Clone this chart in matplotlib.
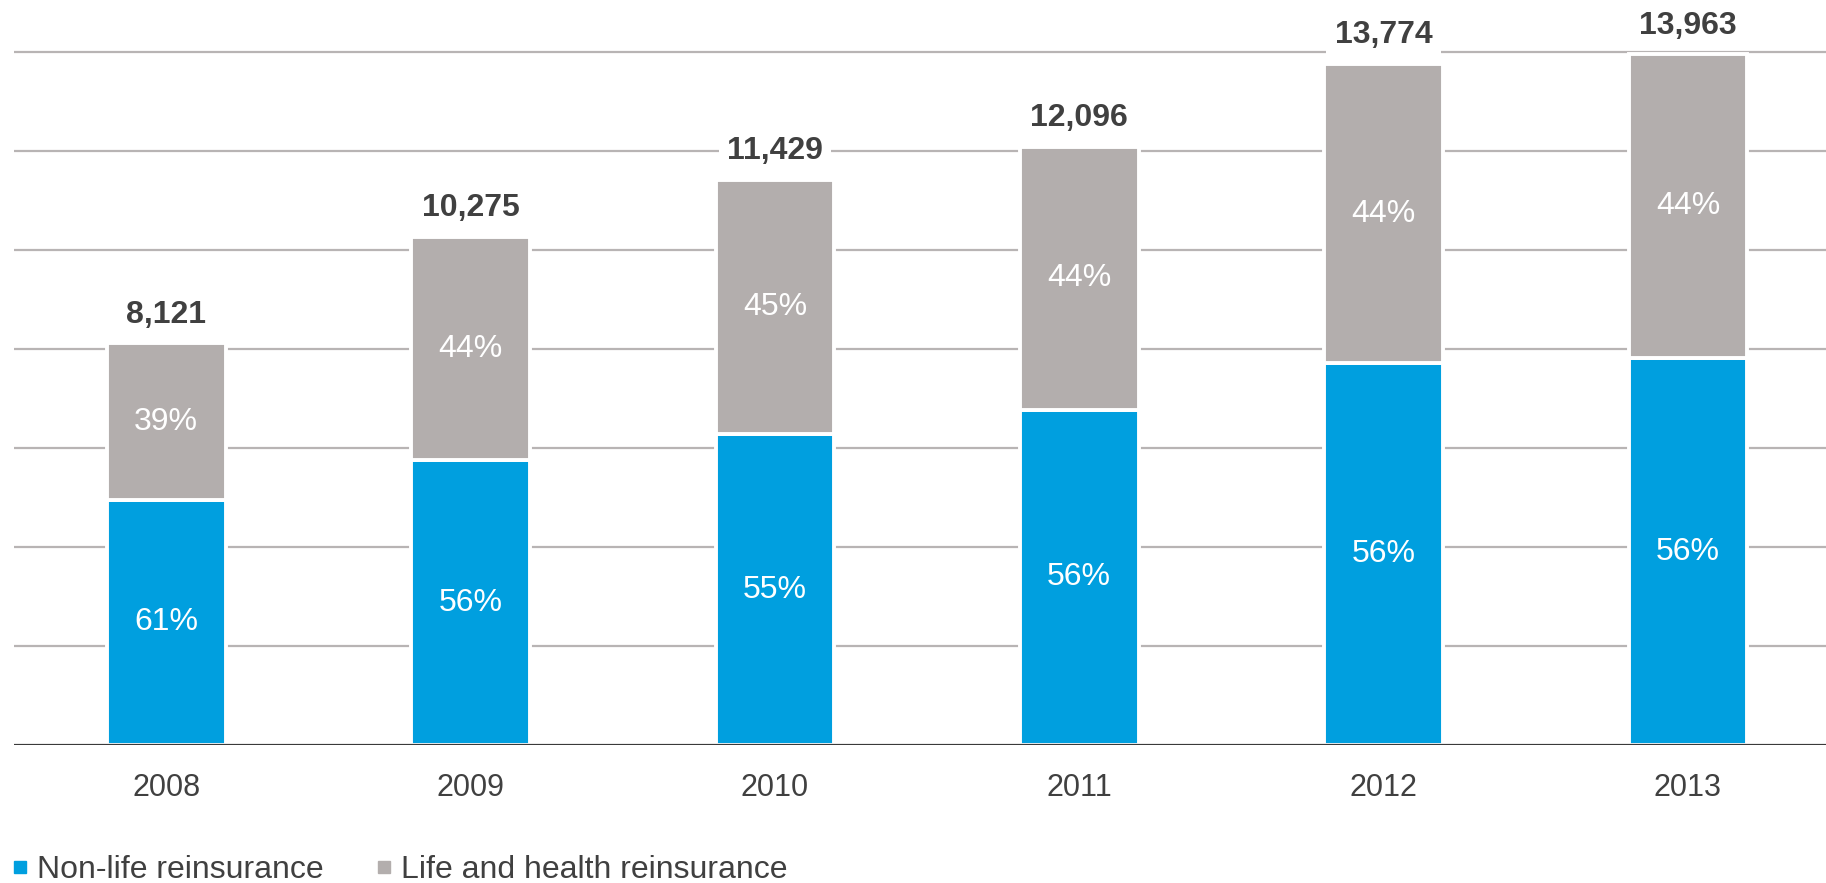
import matplotlib.pyplot as plt
from matplotlib.lines import Line2D
import numpy as np

plt.rcParams['font.family'] = ['Liberation Sans', 'DejaVu Sans']

# premiums by year, with split between the two segments
years = ["2008", "2009", "2010", "2011", "2012", "2013"]
totals = [8121, 10275, 11429, 12096, 13774, 13963]
nonlife_pct = [61, 56, 55, 56, 56, 56]
life_pct = [39, 44, 45, 44, 44, 44]
series_names = ["Non-life reinsurance", "Life and health reinsurance"]

BLUE = "#009fdf"
GREY = "#b3aead"
DARK = "#404040"

nonlife = [t * p / 100 for t, p in zip(totals, nonlife_pct)]
life = [t - n for t, n in zip(totals, nonlife)]
x = np.arange(len(years))

fig = plt.figure(figsize=(18.26, 8.83), dpi=100)
ax = fig.add_axes([0.0077, 0.1563, 1.0, 0.8437])

ax.set_xlim(-0.5, 5.5)
ax.set_ylim(0, 15060)

# horizontal gridlines
for g in range(2000, 16000, 2000):
    ax.axhline(g, color="#b8b4b4", lw=1.6, zorder=1)
ax.axhline(0, color="#3a3a3a", lw=2.3, zorder=4)

w = 0.39
ax.bar(x, nonlife, w, color=BLUE, edgecolor="white", lw=2.8, zorder=2)
ax.bar(x, life, w, bottom=nonlife, color=GREY, edgecolor="white", lw=2.8, zorder=2)

for i in range(len(years)):
    ax.text(x[i], nonlife[i] / 2, f"{nonlife_pct[i]}%", ha="center", va="center",
            color="white", fontsize=23, zorder=3)
    ax.text(x[i], nonlife[i] + life[i] / 2, f"{life_pct[i]}%", ha="center", va="center",
            color="white", fontsize=23, zorder=3)
    ax.text(x[i], totals[i] + 270, f"{totals[i]:,}", ha="center", va="bottom",
            color=DARK, fontsize=23, fontweight="bold", zorder=3,
            bbox=dict(facecolor="white", edgecolor="none", pad=6))

ax.set_xticks(x)
ax.set_xticklabels(years, fontsize=22, color=DARK)
ax.tick_params(axis="x", length=0, pad=20)
ax.set_yticks([])
for s in ax.spines.values():
    s.set_visible(False)

handles = [Line2D([], [], marker="s", ls="none", color=BLUE, markersize=9),
           Line2D([], [], marker="s", ls="none", color=GREY, markersize=9)]
leg = fig.legend(handles, series_names, loc="lower left", bbox_to_anchor=(-0.003, -0.024),
                 ncol=2, frameon=False, fontsize=23, handlelength=0.4,
                 handletextpad=0.33, columnspacing=1.7, borderaxespad=0.2)
for t in leg.get_texts():
    t.set_color(DARK)

fig.savefig("out.png", dpi=100)
